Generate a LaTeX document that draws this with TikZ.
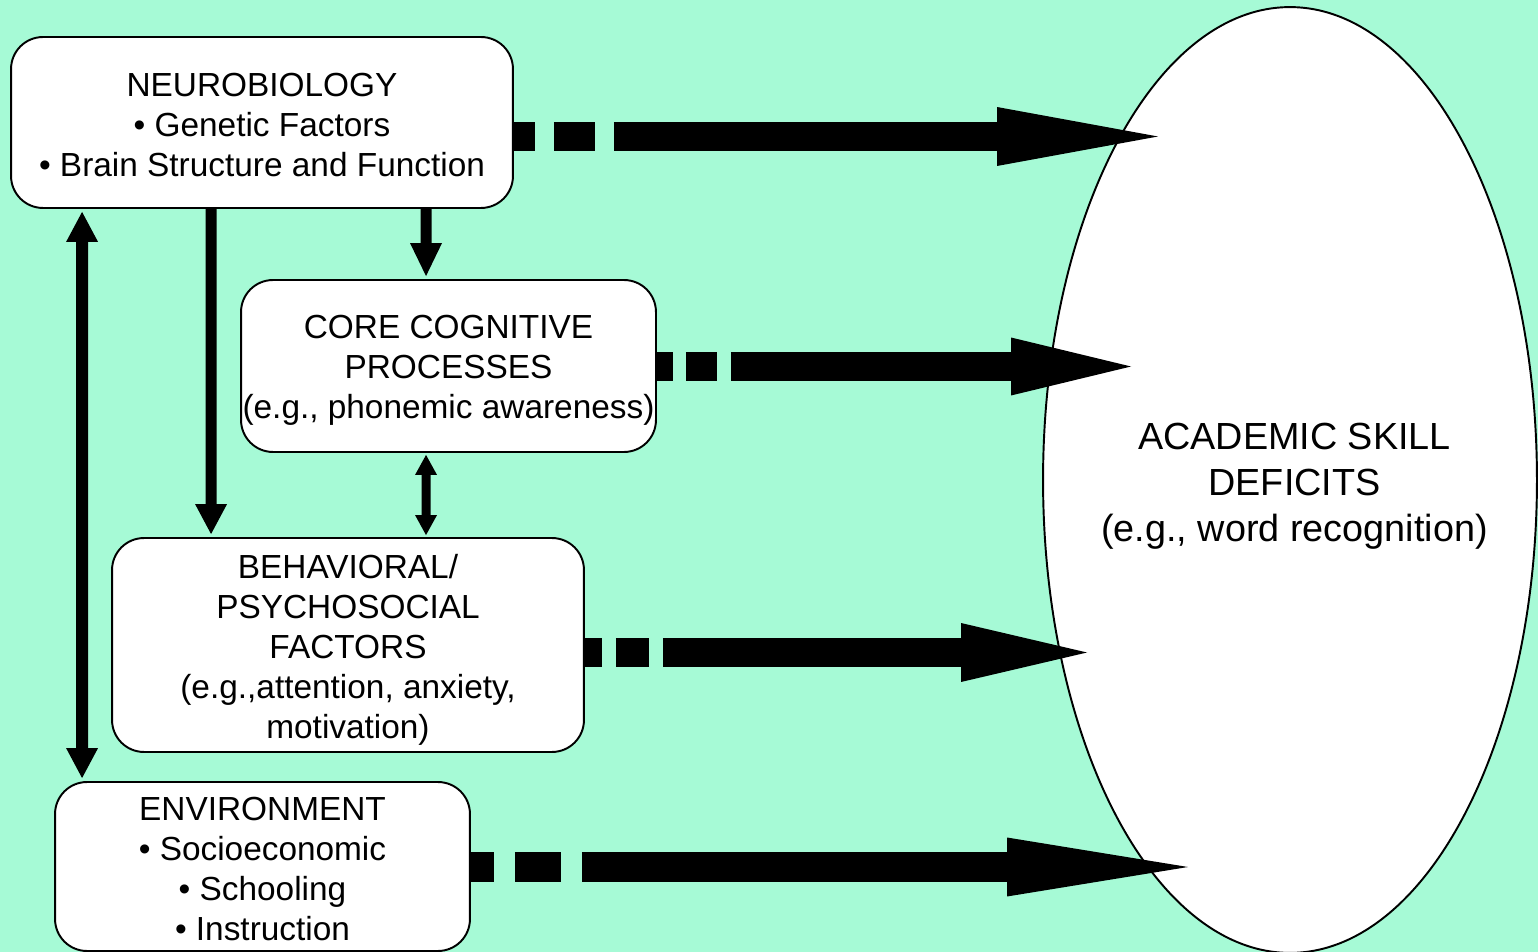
\documentclass[tikz,border=0pt]{standalone}
\usepackage{fontspec}
\setmainfont{Liberation Sans}
\usepackage{tikz}
\usetikzlibrary{arrows.meta,shapes.geometric}
\definecolor{bgmint}{RGB}{166, 250, 214}
\definecolor{boxwhite}{RGB}{255, 255, 255}
\definecolor{lineblack}{RGB}{0, 0, 0}
\newcommand{\boxfont}{\fontsize{19}{22.76}\selectfont}
\newcommand{\ovalfont}{\fontsize{21.5}{26.2}\selectfont}

\begin{document}
\begin{tikzpicture}[
        x=0.02cm, y=-0.02cm,
        factor/.style={rectangle, rounded corners=0.64cm, draw=lineblack, line width=1.1pt, fill=boxwhite, align=center, inner sep=0pt, font=\boxfont},
        outcome/.style={ellipse, draw=lineblack, line width=1.1pt, fill=boxwhite, inner sep=0pt, minimum width=9.88cm, minimum height=18.92cm},
        outcometext/.style={align=center, inner sep=0pt, font=\ovalfont},
        bigflow/.style={line width=0.58cm, color=lineblack},
        vflow/.style={line width=0.22cm, color=lineblack},
        smallflow/.style={line width=0.18cm, color=lineblack}
    ]
    \useasboundingbox (0,0) rectangle (1538,952);
    \clip (0,0) rectangle (1538,952);
    \fill[bgmint] (0,0) rectangle (1538,952);

    % Outcome
    \node[outcome] (deficits) at (1290, 480) {};
    \node[outcometext] (deficitstext) at (1294.5, 486) {ACADEMIC SKILL\\ DEFICITS\\ (e.g., word recognition)};

    % Tips of the big arrows
    \coordinate (tipneuro) at (1158, 136.5);
    \coordinate (tipcore) at (1131, 366.5);
    \coordinate (tipbehav) at (1087, 652.5);
    \coordinate (tipenv) at (1188, 867);

    % Factors
    \node[factor, minimum width=10.04cm, minimum height=3.42cm] (neuro) at (262, 122.5) {\rule{0pt}{16.1pt}NEUROBIOLOGY\\ \textbullet\ Genetic Factors\\ \textbullet\ Brain Structure and Function};
    \node[factor, minimum width=8.30cm, minimum height=3.44cm] (core) at (448.5, 366) {\rule{0pt}{18.7pt}CORE COGNITIVE\\ PROCESSES\\ (e.g., phonemic awareness)};
    \node[factor, minimum width=9.44cm, minimum height=4.28cm] (behav) at (348, 645) {\rule{0pt}{19.6pt}BEHAVIORAL/\\ PSYCHOSOCIAL\\ FACTORS\\ (e.g.,attention, anxiety,\\ motivation)};
    \node[factor, minimum width=8.30cm, minimum height=3.38cm] (env) at (262.5, 866.5) {\rule{0pt}{16.4pt}ENVIRONMENT\\ \textbullet\ Socioeconomic\\ \textbullet\ Schooling\\ \textbullet\ Instruction};

    % Dashed flows to the deficits
    \draw[bigflow, dash pattern=on 0.42cm off 0.38cm on 0.82cm off 0.38cm on 20cm off 1cm, -{Triangle[length=3.22cm, width=1.18cm, line width=0pt]}] (neuro.east |- tipneuro) -- (tipneuro);
    \draw[bigflow, dash pattern=on 0.32cm off 0.26cm on 0.62cm off 0.28cm on 20cm off 1cm, -{Triangle[length=2.40cm, width=1.16cm, line width=0pt]}] (core.east |- tipcore) -- (tipcore);
    \draw[bigflow, dash pattern=on 0.34cm off 0.28cm on 0.66cm off 0.28cm on 20cm off 1cm, -{Triangle[length=2.52cm, width=1.18cm, line width=0pt]}] (behav.east |- tipbehav) -- (tipbehav);
    \draw[bigflow, line width=0.6cm, dash pattern=on 0.46cm off 0.42cm on 0.92cm off 0.42cm on 20cm off 1cm, -{Triangle[length=3.62cm, width=1.18cm, line width=0pt]}] (env.east |- tipenv) -- (tipenv);

    % Links between factors
    \draw[vflow, line width=0.24cm, {Triangle[length=0.6cm, width=0.64cm, line width=0pt, sep=0.06cm]}-{Triangle[length=0.6cm, width=0.64cm, line width=0pt, sep=0.06cm]}] ([xshift=1.44cm]neuro.south west) -- ([xshift=0.56cm]env.north west);
    \draw[vflow, -{Triangle[length=0.6cm, width=0.64cm, line width=0pt, sep=0.06cm]}] ([xshift=4.02cm]neuro.south west) -- ([xshift=2.0cm]behav.north west);
    \draw[vflow, -{Triangle[length=0.66cm, width=0.64cm, line width=0pt, sep=0.06cm]}] ([xshift=8.32cm]neuro.south west) -- ([xshift=3.72cm]core.north west);
    \draw[smallflow, {Triangle[length=0.4cm, width=0.44cm, line width=0pt, sep=0.04cm]}-{Triangle[length=0.4cm, width=0.44cm, line width=0pt, sep=0.04cm]}] ([xshift=3.72cm]core.south west) -- ([xshift=6.3cm]behav.north west);

\end{tikzpicture}
\end{document}
